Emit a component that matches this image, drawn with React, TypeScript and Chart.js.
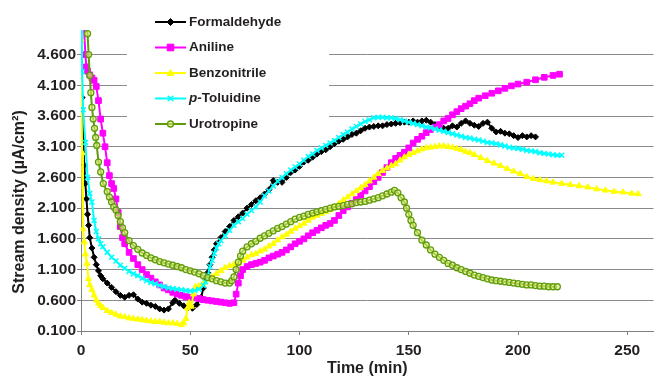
import React, { useEffect, useRef } from "react";
import { Chart, registerables } from "chart.js";

Chart.register(...registerables);

const FONT = '"Liberation Sans", Arial, Helvetica, sans-serif';
const TEXT = "#231f20";

const seriesNames = ["Formaldehyde", "Aniline", "Benzonitrile", "p-Toluidine", "Urotropine"];
const yTickValues = [0.1, 0.6, 1.1, 1.6, 2.1, 2.6, 3.1, 3.6, 4.1, 4.6];
const xTickValues = [0, 50, 100, 150, 200, 250];
const xTitle = "Time (min)";
const yTitle = "Stream density (\u00b5A/cm\u00b2)";

const formaldehydeTime = [0.5, 1, 1.5, 2, 2.5, 3, 3.5, 4, 5, 6, 7, 8, 9, 10,
  12, 14, 16, 18, 20, 22, 24, 26, 28, 30, 32, 34, 36, 38, 40,
  42, 43, 45, 47, 49, 51, 53, 55, 56, 57, 58, 59, 60, 61, 62,
  64, 66, 68, 70, 72, 74, 76, 78, 80, 82, 84, 86, 88, 90, 92, 94, 96, 98, 100, 102,
  104, 106, 108, 110, 112, 114, 116, 118, 120, 122, 124, 126, 128, 130, 132, 134, 136, 138, 140, 142,
  144, 146, 148, 150, 152, 154, 156, 158, 160, 162, 164, 166, 168, 170, 172, 174, 176, 178, 180, 182,
  184, 186, 188, 190, 192, 194, 196, 198, 200, 202, 204, 206, 208];
const formaldehydeValues = [3.9, 3.2, 2.8, 2.5, 2.25, 2.0, 1.82, 1.62, 1.45, 1.3, 1.18, 1.08, 1.0, 0.95,
  0.88, 0.81, 0.74, 0.68, 0.65, 0.68, 0.69, 0.62, 0.57, 0.55, 0.52, 0.5, 0.46, 0.44, 0.46,
  0.56, 0.6, 0.55, 0.51, 0.48, 0.47, 0.53, 0.65, 0.8, 0.95, 1.05, 1.18, 1.3, 1.42, 1.52,
  1.62, 1.72, 1.8, 1.9, 1.96, 2.02, 2.1, 2.16, 2.22, 2.27, 2.33, 2.4, 2.55, 2.52, 2.52, 2.6, 2.68, 2.72, 2.78, 2.85,
  2.88, 2.93, 2.98, 3.02, 3.05, 3.1, 3.15, 3.19, 3.22, 3.26, 3.3, 3.32, 3.36, 3.4, 3.42, 3.43, 3.44, 3.44, 3.46, 3.47,
  3.48, 3.49, 3.5, 3.5, 3.52, 3.5, 3.52, 3.53, 3.5, 3.46, 3.43, 3.4, 3.4, 3.44, 3.42, 3.48, 3.52, 3.48, 3.45, 3.43,
  3.48, 3.5, 3.4, 3.34, 3.35, 3.32, 3.31, 3.28, 3.25, 3.28, 3.26, 3.28, 3.26];

const anilineTime = [1, 2, 2.5, 3, 4, 5, 6, 7, 8, 9, 10, 11, 12, 13, 14, 15, 16, 17, 18, 19, 20,
  22, 24, 26, 28, 30, 32, 34, 36, 38, 40, 42, 44, 46, 48, 50, 52, 54, 56, 58, 60, 62, 64, 66, 68, 70,
  71, 72, 73, 74,
  76, 78, 80, 82, 84, 86, 88, 90, 92, 94, 96, 98, 100, 102, 104, 106, 108, 110, 112, 114,
  116, 118, 120, 122, 124, 126, 128, 130, 132, 134, 136, 138, 140, 142, 144, 146, 148, 150, 152, 154,
  156, 158, 160, 162, 164, 166, 168, 170, 172, 174, 176, 178, 180, 182,
  185, 188, 191, 194, 197, 200, 204, 208, 212, 216, 219];
const anilineValues = [5.3, 4.6, 4.4, 4.33, 4.27, 4.22, 4.18, 4.08, 3.85, 3.55, 3.32, 3.1, 2.84, 2.63, 2.5, 2.42, 2.25, 2.03, 1.8, 1.62, 1.52,
  1.38, 1.28, 1.18, 1.1, 1.02, 0.96, 0.9, 0.85, 0.8, 0.77, 0.73, 0.7, 0.68, 0.66, 0.65, 0.64, 0.63, 0.61, 0.6, 0.59, 0.58, 0.57, 0.56, 0.55, 0.56,
  0.7, 0.88, 1.0, 1.1,
  1.15, 1.18, 1.2, 1.22, 1.25, 1.29, 1.32, 1.35, 1.38, 1.42, 1.47, 1.52, 1.56, 1.6, 1.65, 1.7, 1.74, 1.78, 1.82, 1.85,
  1.9, 1.98, 2.06, 2.12, 2.18, 2.24, 2.31, 2.38, 2.45, 2.53, 2.6, 2.68, 2.76, 2.84, 2.91, 2.96, 3.01, 3.08, 3.16, 3.22,
  3.27, 3.33, 3.38, 3.42, 3.46, 3.52, 3.56, 3.62, 3.67, 3.72, 3.76, 3.8, 3.85, 3.89,
  3.93, 3.97, 4.01, 4.05, 4.09, 4.12, 4.15, 4.19, 4.23, 4.26, 4.28];

const benzonitrileTime = [0, 0.5, 0.9, 1.5, 2, 2.7, 3.4, 4, 5, 6, 7, 8, 9, 10,
  12, 14, 16, 18, 20, 22, 24, 26, 28, 30, 32, 34, 36, 38, 40, 42, 44, 46,
  47, 48, 48.7, 49.5, 50.5, 51.5, 52.5,
  54, 56, 58, 60, 62, 64, 66, 68, 70, 72, 74, 76, 78, 80, 82, 84, 86, 88, 90, 92,
  94, 96, 98, 100, 102, 104, 106, 108, 110, 112, 114, 116, 118, 120, 122, 124, 126, 128, 130, 132,
  134, 136, 138, 140, 142, 144, 146, 148, 150, 152, 154, 156, 158, 160, 162, 164, 166, 168, 170, 172,
  174, 176, 178, 180,
  183, 186, 189, 192, 195, 198, 201, 204, 207, 210, 213, 216,
  220, 224, 228, 232, 236, 240, 244, 248, 252, 255];
const benzonitrileValues = [4.85, 3.0, 1.76, 1.55, 1.35, 1.2, 0.95, 0.85, 0.77, 0.68, 0.6, 0.55, 0.51, 0.48,
  0.43, 0.4, 0.37, 0.34, 0.33, 0.31, 0.3, 0.29, 0.28, 0.27, 0.26, 0.25, 0.25, 0.24, 0.23, 0.23, 0.22, 0.2,
  0.23, 0.3, 0.47, 0.56, 0.5, 0.7, 0.82,
  0.83, 0.88, 0.94, 0.98, 1.03, 1.08, 1.13, 1.16, 1.18, 1.2, 1.25, 1.3, 1.34, 1.36, 1.4, 1.43, 1.48, 1.52, 1.58, 1.63,
  1.67, 1.72, 1.77, 1.81, 1.85, 1.9, 1.95, 1.98, 2.01, 2.04, 2.07, 2.12, 2.17, 2.23, 2.28, 2.33, 2.38, 2.43, 2.48, 2.54,
  2.6, 2.66, 2.71, 2.75, 2.79, 2.82, 2.88, 2.93, 2.97, 3.0, 3.03, 3.06, 3.08, 3.09, 3.1, 3.11, 3.11, 3.1, 3.09, 3.07,
  3.05, 3.02, 3.0, 2.97,
  2.92, 2.87, 2.83, 2.79, 2.74, 2.7, 2.66, 2.61, 2.58, 2.56, 2.54, 2.52,
  2.5, 2.48, 2.46, 2.44, 2.41, 2.39, 2.37, 2.36, 2.34, 2.33];

const toluidineTime = [0.3, 0.5, 1, 2, 3, 4, 5, 6, 7, 8, 9, 10,
  12, 14, 16, 18, 20, 22, 24, 26, 28, 30, 32, 34, 36, 38, 40, 42, 44, 46, 48, 50, 52, 54, 56,
  57, 58, 59, 60, 61, 62, 63,
  64, 66, 68, 70, 72, 74, 76, 78, 80, 82, 84, 86, 88, 90, 92, 94, 96, 98, 100, 102,
  104, 106, 108, 110, 112, 114, 116, 118, 120, 122, 124, 126, 128, 130, 132, 134, 136, 138, 140, 142,
  144, 146, 148, 150, 152, 154, 156, 158, 160, 162, 164, 166, 168, 170, 172, 174, 176, 178, 180, 182,
  184, 186, 188, 190, 192, 194, 196, 198, 200, 202, 204, 206, 208, 210, 212, 214, 216, 218, 220];
const toluidineValues = [5.2, 4.32, 3.7, 3.17, 2.6, 2.34, 2.2, 1.9, 1.72, 1.6, 1.52, 1.47,
  1.38, 1.3, 1.24, 1.17, 1.12, 1.07, 1.03, 1.0, 0.96, 0.92, 0.89, 0.87, 0.84, 0.82, 0.8, 0.79, 0.78, 0.77, 0.76, 0.75, 0.76, 0.78, 0.84,
  0.9, 1.0, 1.15, 1.25, 1.36, 1.45, 1.52,
  1.57, 1.65, 1.74, 1.82, 1.88, 1.93, 2.0, 2.06, 2.12, 2.2, 2.3, 2.38, 2.46, 2.54, 2.6, 2.66, 2.72, 2.77, 2.82, 2.88,
  2.94, 2.98, 3.04, 3.08, 3.12, 3.16, 3.2, 3.25, 3.3, 3.34, 3.39, 3.43, 3.47, 3.51, 3.54, 3.57, 3.58, 3.58, 3.57, 3.57,
  3.56, 3.54, 3.52, 3.5, 3.48, 3.46, 3.44, 3.42, 3.41, 3.39, 3.37, 3.35, 3.33, 3.31, 3.29, 3.27, 3.25, 3.24, 3.22, 3.21,
  3.19, 3.17, 3.16, 3.15, 3.13, 3.11, 3.09, 3.08, 3.07, 3.06, 3.04, 3.03, 3.02, 3.0, 2.99, 2.98, 2.97, 2.96, 2.96];

const urotropineTime = [2.5, 3, 3.5, 4, 4.5, 5, 5.6, 6.2, 6.7, 7.2, 8, 9, 10.2, 12, 13, 14, 15, 16, 17, 18, 19, 20,
  22, 24, 26, 28, 30, 32, 34, 36, 38, 40, 42, 44, 46, 48, 50, 52, 54, 56, 58, 60, 62, 64, 66, 68,
  69, 70, 71, 72, 73, 74,
  76, 78, 80, 82, 84, 86, 88, 90, 92, 94, 96, 98, 100, 102, 104, 106, 108, 110, 112, 114,
  116, 118, 120, 122, 124, 126, 128, 130, 132, 134, 136, 138, 140, 142,
  143.5, 145, 146.5, 148, 149, 150, 151, 152,
  154, 156, 158, 160, 162, 164, 166, 168, 170, 172, 174, 176, 178, 180, 182, 184, 186, 188, 190, 192,
  194, 196, 198, 200, 202, 204, 206, 208, 210, 212, 214, 216, 218];
const urotropineValues = [5.05, 4.94, 4.6, 4.26, 3.98, 3.74, 3.55, 3.4, 3.25, 3.12, 2.85, 2.69, 2.5, 2.37, 2.28, 2.2, 2.12, 2.07, 1.98, 1.88, 1.78, 1.7,
  1.57, 1.49, 1.43, 1.37, 1.33, 1.29, 1.26, 1.23, 1.21, 1.19, 1.17, 1.15, 1.13, 1.1, 1.08, 1.06, 1.03, 1.0, 0.97, 0.95, 0.92, 0.9, 0.88, 0.88,
  0.92, 0.98, 1.1, 1.22, 1.32, 1.4,
  1.47, 1.52, 1.56, 1.61, 1.65, 1.69, 1.73, 1.77, 1.8, 1.84, 1.88, 1.92, 1.95, 1.97, 2.0, 2.02, 2.04, 2.06, 2.08, 2.1,
  2.12, 2.13, 2.14, 2.16, 2.17, 2.19, 2.2, 2.21, 2.23, 2.25, 2.27, 2.3, 2.33, 2.36,
  2.39, 2.35, 2.27, 2.2, 2.1, 2.0, 1.9, 1.82,
  1.7, 1.58, 1.5, 1.42, 1.35, 1.3, 1.25, 1.2, 1.17, 1.13, 1.1, 1.07, 1.04, 1.01, 0.99, 0.97, 0.95, 0.93, 0.92, 0.91,
  0.9, 0.89, 0.88, 0.87, 0.86, 0.85, 0.85, 0.84, 0.83, 0.83, 0.82, 0.82, 0.82];

function zip(t: number[], v: number[]) {
  const n = Math.min(t.length, v.length);
  const out: { x: number; y: number }[] = [];
  for (let i = 0; i < n; i++) out.push({ x: t[i], y: v[i] });
  return out;
}

type Style = { color: string; point: string; radius: number; fill: string; border: string; pbw: number };
const styles: Style[] = [
  { color: "#000000", point: "rectRot", radius: 3, fill: "#000000", border: "#000000", pbw: 1 },
  { color: "#ff00ff", point: "rect", radius: 4, fill: "#ff00ff", border: "#ff00ff", pbw: 1 },
  { color: "#ffff00", point: "triangle", radius: 3.5, fill: "#ffff00", border: "#ffff00", pbw: 1 },
  { color: "#00ffff", point: "crossRot", radius: 3.5, fill: "#00ffff", border: "#00ffff", pbw: 1.5 },
  { color: "#5f9c0e", point: "circle", radius: 3, fill: "rgba(230,240,120,0.6)", border: "#5f9c0e", pbw: 1.3 },
];

function drawMarker(ctx: CanvasRenderingContext2D, s: Style, x: number, y: number) {
  ctx.save();
  ctx.fillStyle = s.fill;
  ctx.strokeStyle = s.border;
  ctx.lineWidth = s.pbw;
  const r = s.radius;
  ctx.beginPath();
  if (s.point === "rectRot") {
    ctx.moveTo(x, y - r - 0.5); ctx.lineTo(x + r + 0.5, y); ctx.lineTo(x, y + r + 0.5); ctx.lineTo(x - r - 0.5, y); ctx.closePath();
    ctx.fill(); ctx.stroke();
  } else if (s.point === "rect") {
    const h = r * Math.SQRT1_2 + 0.5;
    ctx.rect(x - h, y - h, 2 * h, 2 * h); ctx.fill(); ctx.stroke();
  } else if (s.point === "triangle") {
    ctx.moveTo(x, y - r); ctx.lineTo(x + r, y + r * 0.7); ctx.lineTo(x - r, y + r * 0.7); ctx.closePath();
    ctx.fill(); ctx.stroke();
  } else if (s.point === "crossRot") {
    const d = r * 0.8;
    ctx.moveTo(x - d, y - d); ctx.lineTo(x + d, y + d); ctx.moveTo(x + d, y - d); ctx.lineTo(x - d, y + d);
    ctx.stroke();
  } else {
    ctx.arc(x, y, r, 0, Math.PI * 2); ctx.fill(); ctx.stroke();
  }
  ctx.restore();
}

const overlayPlugin = {
  id: "overlay",
  afterDraw(chart: any) {
    const ctx: CanvasRenderingContext2D = chart.ctx;
    ctx.save();
    // legend box
    ctx.fillStyle = "#ffffff";
    ctx.fillRect(127, 4, 202, 133);
    const rows = [22, 47.5, 73, 98.5, 124];
    seriesNames.forEach((name, i) => {
      const s = styles[i];
      const y = rows[i];
      ctx.strokeStyle = s.color;
      ctx.lineWidth = 2;
      ctx.beginPath();
      ctx.moveTo(155, y);
      ctx.lineTo(186, y);
      ctx.stroke();
      drawMarker(ctx, s, 170.5, y);
      ctx.fillStyle = TEXT;
      ctx.textBaseline = "middle";
      ctx.textAlign = "left";
      let x = 189;
      if (name.startsWith("p-")) {
        ctx.font = `italic bold 13.5px ${FONT}`;
        ctx.fillText("p", x, y);
        x += ctx.measureText("p").width;
        ctx.font = `bold 13.5px ${FONT}`;
        ctx.fillText(name.slice(1), x, y);
      } else {
        ctx.font = `bold 13.5px ${FONT}`;
        ctx.fillText(name, x, y);
      }
    });
    // y axis title
    ctx.translate(20, 202);
    ctx.rotate(-Math.PI / 2);
    ctx.font = `bold 16px ${FONT}`;
    ctx.fillStyle = TEXT;
    ctx.textAlign = "center";
    ctx.textBaseline = "middle";
    ctx.fillText(yTitle, 0, 0);
    ctx.restore();
  },
};

export default function App() {
  const ref = useRef<HTMLCanvasElement | null>(null);
  useEffect(() => {
    if (!ref.current) return;
    const pairs = [
      zip(formaldehydeTime, formaldehydeValues),
      zip(anilineTime, anilineValues),
      zip(benzonitrileTime, benzonitrileValues),
      zip(toluidineTime, toluidineValues),
      zip(urotropineTime, urotropineValues),
    ];
    const chart = new Chart(ref.current, {
      type: "line",
      data: {
        datasets: pairs.map((d, i) => ({
          label: seriesNames[i],
          data: d,
          borderColor: styles[i].color,
          backgroundColor: styles[i].fill,
          borderWidth: 2,
          pointStyle: styles[i].point as any,
          pointRadius: styles[i].radius,
          pointBackgroundColor: styles[i].fill,
          pointBorderColor: styles[i].border,
          pointBorderWidth: styles[i].pbw,
          tension: 0,
          order: 4 - i,
        })),
      },
      options: {
        responsive: false,
        animation: false,
        events: [],
        layout: { padding: { top: 30, left: 0, right: 0, bottom: 0 } },
        plugins: { legend: { display: false }, tooltip: { enabled: false } },
        scales: {
          x: {
            type: "linear",
            min: 0,
            max: 262,
            afterFit: (scale: any) => { scale.height = 47; },
            afterBuildTicks: (scale: any) => { scale.ticks = xTickValues.map((v) => ({ value: v })); },
            ticks: {
              color: TEXT,
              font: { family: FONT, size: 15.5, weight: "bold" },
              padding: 6,
              maxRotation: 0,
              callback: (v: any) => String(v),
            },
            grid: { drawOnChartArea: false, drawTicks: true, tickLength: 4, tickColor: "#808080" },
            border: { display: true, color: "#808080", width: 1 },
            title: {
              display: true,
              text: xTitle,
              color: TEXT,
              font: { family: FONT, size: 16, weight: "bold" },
              padding: { top: 0, bottom: 0 },
            },
          },
          y: {
            type: "linear",
            min: 0.1,
            max: 5.0,
            afterFit: (scale: any) => { scale.width = 81; },
            afterBuildTicks: (scale: any) => { scale.ticks = yTickValues.map((v) => ({ value: v })); },
            ticks: {
              color: TEXT,
              font: { family: FONT, size: 15.5, weight: "bold" },
              padding: 1,
              callback: (v: any) => Number(v).toFixed(3),
            },
            grid: { color: "#8a8a8a", lineWidth: 1, drawTicks: true, tickLength: 4, tickColor: "#808080" },
            border: { display: true, color: "#808080", width: 1 },
          },
        },
      },
      plugins: [overlayPlugin],
    });
    return () => chart.destroy();
  }, []);
  return (
    <div style={{ position: "fixed", left: 0, top: 0, width: 659, height: 378, background: "#fff" }}>
      <canvas ref={ref} width={659} height={378} style={{ display: "block", width: 659, height: 378 }} />
    </div>
  );
}
